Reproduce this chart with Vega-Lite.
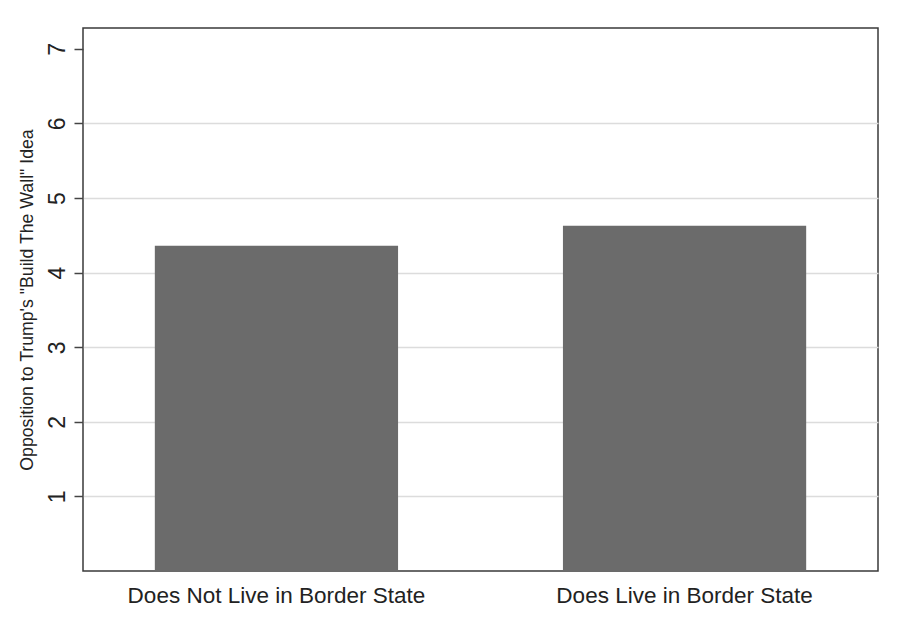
{
  "$schema": "https://vega.github.io/schema/vega-lite/v6.json",
  "width": 795,
  "height": 543,
  "autosize": {"type": "none"},
  "padding": {"left": 83, "top": 28, "right": 23, "bottom": 46},
  "background": "white",
  "config": {
    "font": "Liberation Sans",
    "view": {"stroke": "#3a3a3a", "strokeWidth": 1.5}
  },
  "data": {
    "values": [
      {"group": "Does Not Live in Border State", "value": 4.36},
      {"group": "Does Live in Border State", "value": 4.63}
    ]
  },
  "mark": {"type": "bar", "color": "#6b6b6b"},
  "encoding": {
    "x": {
      "field": "group",
      "type": "nominal",
      "sort": null,
      "scale": {"paddingInner": 0.404, "paddingOuter": 0.176},
      "axis": {
        "title": null,
        "labelAngle": 0,
        "labelFontSize": 22.5,
        "labelLimit": 0,
        "labelColor": "#222222",
        "labelPadding": 13,
        "ticks": false,
        "domain": false
      }
    },
    "y": {
      "field": "value",
      "type": "quantitative",
      "scale": {"domain": [0, 7.28], "nice": false, "zero": true},
      "axis": {
        "title": "Opposition to Trump's \"Build The Wall\" Idea",
        "titleFontSize": 17.7,
        "titleFontWeight": "normal",
        "titleColor": "#222222",
        "titlePadding": 10,
        "values": [1, 2, 3, 4, 5, 6, 7],
        "labelAngle": -90,
        "labelFontSize": 23,
        "labelColor": "#222222",
        "labelAlign": "center",
        "labelBaseline": "bottom",
        "labelPadding": 5,
        "tickSize": 9,
        "tickColor": "#444444",
        "tickWidth": 1.5,
        "domain": false,
        "grid": true,
        "gridColor": "#dcdcdc",
        "gridWidth": 1.5,
        "gridOpacity": {"condition": {"test": "datum.value == 7", "value": 0}, "value": 1}
      }
    }
  }
}
